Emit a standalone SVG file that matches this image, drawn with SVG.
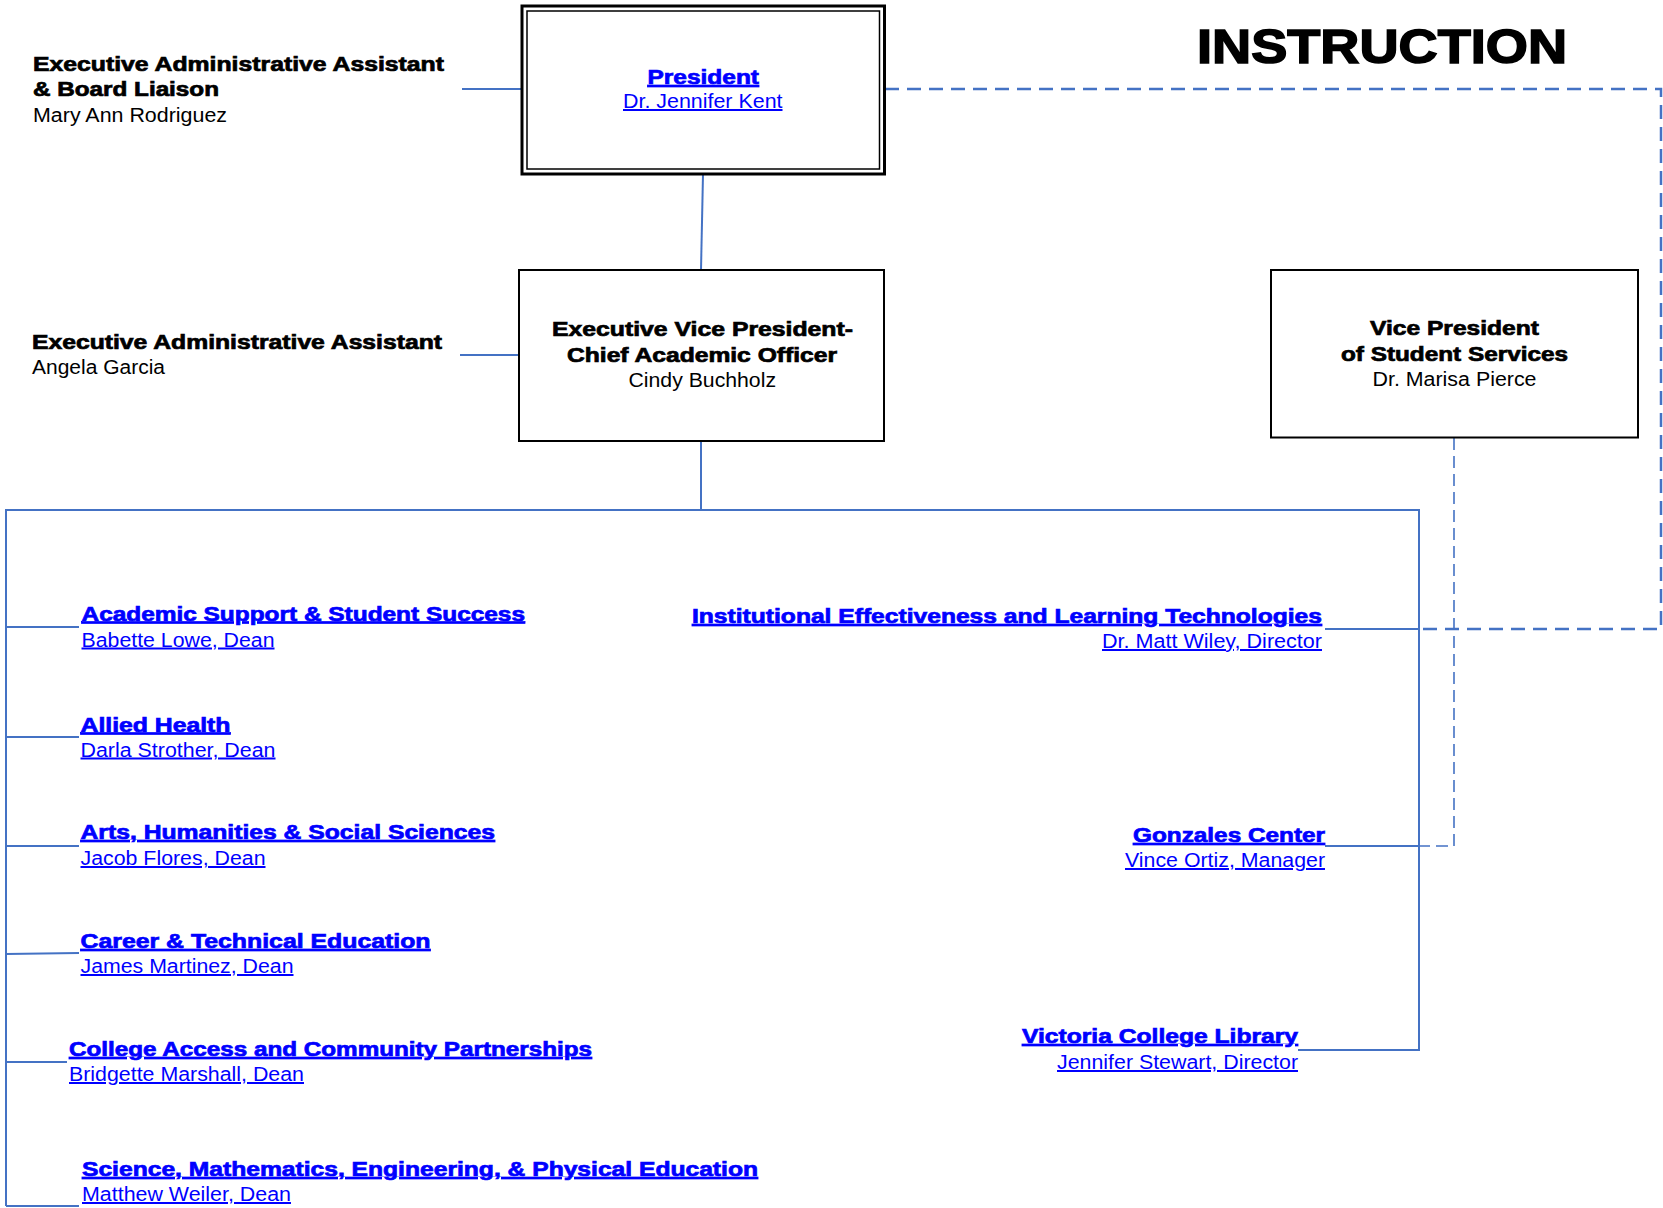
<svg xmlns="http://www.w3.org/2000/svg" width="1663" height="1208" viewBox="0 0 1663 1208">
<style>
text{font-family:"Liberation Sans",Arial,sans-serif;font-size:20px}
.b{font-weight:bold;stroke-width:0.7}
.k{fill:#000}
.b.k{stroke:#000}
.lk{fill:#0000FF;text-decoration:underline}
.b.lk{stroke:#0000FF}
.ln{fill:none;stroke:#4472C4;stroke-width:2}
.dh{fill:none;stroke:#4472C4;stroke-width:2.5;stroke-dasharray:14 8}
.dt{fill:none;stroke:#4472C4;stroke-width:1.6;stroke-dasharray:12 6}
.box{fill:#fff;stroke:#000;stroke-width:2}
</style>
<rect width="1663" height="1208" fill="#fff"/>
<g id="connectors">
<line class="ln" x1="462" y1="89" x2="522" y2="89"/>
<line class="ln" x1="703" y1="174" x2="701" y2="270"/>
<line class="ln" x1="460" y1="355" x2="519" y2="355"/>
<line class="ln" x1="701" y1="441" x2="701" y2="510"/>
<polyline class="ln" points="6,1206 6,510 1419,510 1419,1050 1298,1050"/>
<line class="ln" x1="6" y1="627" x2="79" y2="627"/>
<line class="ln" x1="6" y1="737" x2="79" y2="737"/>
<line class="ln" x1="6" y1="846" x2="79" y2="846"/>
<line class="ln" x1="6" y1="954" x2="79" y2="953"/>
<line class="ln" x1="6" y1="1062" x2="67" y2="1062"/>
<line class="ln" x1="6" y1="1206" x2="79" y2="1206"/>
<line class="ln" x1="1325" y1="629" x2="1419" y2="629"/>
<line class="ln" x1="1325" y1="846" x2="1419" y2="846"/>
<polyline class="dh" points="885,89 1661,89 1661,629 1419,629"/>
<polyline class="dt" points="1454,438 1454,846 1419,846"/>
</g>
<g id="title"><text class="b k" x="1197" y="63" style="font-size:49px;stroke-width:1.6" textLength="370" lengthAdjust="spacingAndGlyphs">INSTRUCTION</text></g>
<g id="assistant-president">
<text class="b k" x="33" y="71" textLength="411" lengthAdjust="spacingAndGlyphs">Executive Administrative Assistant</text>
<text class="b k" x="33" y="96" textLength="186" lengthAdjust="spacingAndGlyphs">&amp; Board Liaison</text>
<text class="k" x="33" y="122" textLength="194" lengthAdjust="spacingAndGlyphs">Mary Ann Rodriguez</text>
</g>
<g id="president">
<rect class="box" x="522" y="6" width="362.5" height="168" style="stroke-width:3"/>
<rect x="527" y="11" width="352.5" height="158" fill="none" stroke="#000" stroke-width="1.5"/>
<text class="b lk" x="647.5" y="84" textLength="111.5" lengthAdjust="spacingAndGlyphs">President</text>
<text class="lk" x="623" y="108" textLength="159.5" lengthAdjust="spacingAndGlyphs">Dr. Jennifer Kent</text>
</g>
<g id="assistant-evp">
<text class="b k" x="32" y="349" textLength="410" lengthAdjust="spacingAndGlyphs">Executive Administrative Assistant</text>
<text class="k" x="32" y="374" textLength="133" lengthAdjust="spacingAndGlyphs">Angela Garcia</text>
</g>
<g id="evp">
<rect class="box" x="519" y="270" width="365" height="171"/>
<text class="b k" x="552" y="336" textLength="301" lengthAdjust="spacingAndGlyphs">Executive Vice President-</text>
<text class="b k" x="567" y="361.5" textLength="270" lengthAdjust="spacingAndGlyphs">Chief Academic Officer</text>
<text class="k" x="628.5" y="387" textLength="147.5" lengthAdjust="spacingAndGlyphs">Cindy Buchholz</text>
</g>
<g id="vp-student-services">
<rect class="box" x="1271" y="270" width="367" height="167.5"/>
<text class="b k" x="1370" y="335" textLength="169" lengthAdjust="spacingAndGlyphs">Vice President</text>
<text class="b k" x="1341" y="360.5" textLength="227" lengthAdjust="spacingAndGlyphs">of Student Services</text>
<text class="k" x="1372.5" y="386" textLength="164" lengthAdjust="spacingAndGlyphs">Dr. Marisa Pierce</text>
</g>
<g id="academic-support">
<text class="b lk" x="81.5" y="620.5" textLength="443.5" lengthAdjust="spacingAndGlyphs">Academic Support &amp; Student Success</text>
<text class="lk" x="81.5" y="646.5" textLength="193" lengthAdjust="spacingAndGlyphs">Babette Lowe, Dean</text>
</g>
<g id="allied-health">
<text class="b lk" x="80.5" y="731.5" textLength="150" lengthAdjust="spacingAndGlyphs">Allied Health</text>
<text class="lk" x="80.5" y="756.5" textLength="195" lengthAdjust="spacingAndGlyphs">Darla Strother, Dean</text>
</g>
<g id="arts">
<text class="b lk" x="80.5" y="839" textLength="414.5" lengthAdjust="spacingAndGlyphs">Arts, Humanities &amp; Social Sciences</text>
<text class="lk" x="80.5" y="865" textLength="185" lengthAdjust="spacingAndGlyphs">Jacob Flores, Dean</text>
</g>
<g id="career">
<text class="b lk" x="80.5" y="948" textLength="350" lengthAdjust="spacingAndGlyphs">Career &amp; Technical Education</text>
<text class="lk" x="80.5" y="973" textLength="213" lengthAdjust="spacingAndGlyphs">James Martinez, Dean</text>
</g>
<g id="college-access">
<text class="b lk" x="69" y="1056" textLength="523" lengthAdjust="spacingAndGlyphs">College Access and Community Partnerships</text>
<text class="lk" x="69" y="1081" textLength="235" lengthAdjust="spacingAndGlyphs">Bridgette Marshall, Dean</text>
</g>
<g id="science">
<text class="b lk" x="82" y="1176" textLength="676" lengthAdjust="spacingAndGlyphs">Science, Mathematics, Engineering, &amp; Physical Education</text>
<text class="lk" x="82" y="1201" textLength="209" lengthAdjust="spacingAndGlyphs">Matthew Weiler, Dean</text>
</g>
<g id="ielt">
<text class="b lk" x="692" y="623" textLength="630" lengthAdjust="spacingAndGlyphs">Institutional Effectiveness and Learning Technologies</text>
<text class="lk" x="1102" y="648" textLength="220" lengthAdjust="spacingAndGlyphs">Dr. Matt Wiley, Director</text>
</g>
<g id="gonzales">
<text class="b lk" x="1133" y="842" textLength="192" lengthAdjust="spacingAndGlyphs">Gonzales Center</text>
<text class="lk" x="1125" y="867" textLength="200" lengthAdjust="spacingAndGlyphs">Vince Ortiz, Manager</text>
</g>
<g id="library">
<text class="b lk" x="1022" y="1043" textLength="276" lengthAdjust="spacingAndGlyphs">Victoria College Library</text>
<text class="lk" x="1057" y="1069" textLength="241" lengthAdjust="spacingAndGlyphs">Jennifer Stewart, Director</text>
</g>
</svg>
